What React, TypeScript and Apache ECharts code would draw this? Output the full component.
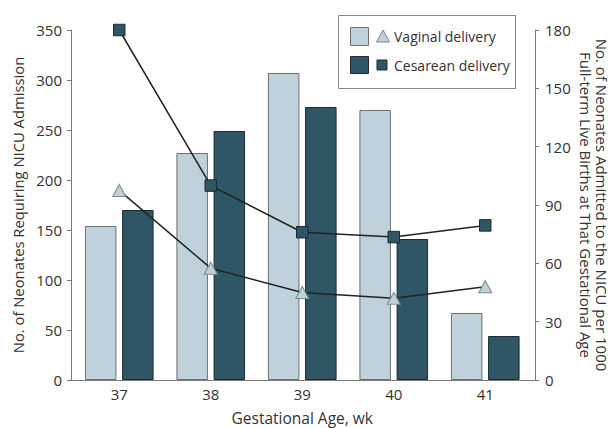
import React, { useEffect, useRef } from "react";
import * as echarts from "echarts";

const categories = ["37", "38", "39", "40", "41"];
const vaginalCounts = [154, 227, 307, 270, 67];
const cesareanCounts = [170, 249, 273, 141, 44];
const vaginalRate = [97.5, 57.5, 45, 42, 48];
const cesareanRate = [180, 100, 76, 73.5, 79.5];
const leftTicks = { min: 0, max: 350, interval: 50 };
const rightTicks = { min: 0, max: 180, interval: 30 };
const rightTitle = "No. of Neonates Admitted to the NICU per 1000\nFull-term Live Births at That Gestational Age";

const FONT = "Open Sans";
const LIGHT = "#bfd1da";
const DARK = "#2e5664";
const TXT = "#333333";
const AX = "#7a7a7a";

export default function App() {
  const ref = useRef<HTMLDivElement>(null);
  useEffect(() => {
    const chart = echarts.init(ref.current!, null, { renderer: "svg" });
    chart.setOption({
      animation: false,
      textStyle: { fontFamily: FONT },
      grid: { left: 73.5, top: 30, width: 457.5, bottom: 48, containLabel: false, outerBoundsMode: "none" },
      xAxis: {
        type: "category",
        data: categories,
        axisLine: { show: false },
        axisTick: { show: false },
        axisLabel: { color: TXT, fontSize: 15, fontFamily: FONT, margin: 6 },
        name: "Gestational Age, wk",
        nameLocation: "middle",
        nameGap: 30,
        nameTextStyle: { color: TXT, fontSize: 15.5, fontFamily: FONT, lineHeight: 16 },
      },
      yAxis: [
        {
          type: "value",
          ...leftTicks,
          position: "left",
          offset: 2.5,
          splitLine: { show: false },
          axisLine: { show: true, lineStyle: { color: AX, width: 1 } },
          axisTick: { show: true, length: 4, lineStyle: { color: AX } },
          axisLabel: { color: TXT, fontSize: 15, fontFamily: FONT, margin: 9 },
          name: "No. of Neonates Requiring NICU Admission",
          nameLocation: "middle",
          nameGap: 46,
          nameTextStyle: { color: TXT, fontSize: 14.8, fontFamily: FONT },
        },
        {
          type: "value",
          ...rightTicks,
          position: "right",
          offset: 4,
          splitLine: { show: false },
          axisLine: { show: true, lineStyle: { color: AX, width: 1 } },
          axisTick: { show: true, length: 4, lineStyle: { color: AX } },
          axisLabel: { color: TXT, fontSize: 15, fontFamily: FONT, margin: 10 },
        },
      ],
      series: [
        {
          type: "bar",
          name: "Vaginal delivery",
          data: vaginalCounts,
          yAxisIndex: 0,
          barWidth: 31.5,
          barGap: "18%",
          itemStyle: { color: LIGHT, borderColor: "#6f6f6f", borderWidth: 1 },
        },
        {
          type: "bar",
          name: "Cesarean delivery",
          data: cesareanCounts,
          yAxisIndex: 0,
          barWidth: 31.5,
          itemStyle: { color: DARK, borderColor: "#1e2a30", borderWidth: 1 },
        },
        {
          type: "line",
          name: "Vaginal rate",
          data: vaginalRate,
          yAxisIndex: 1,
          symbol: "triangle",
          symbolSize: [13, 12],
          lineStyle: { color: "#222222", width: 1.5 },
          itemStyle: { color: LIGHT, borderColor: "#7a8a92", borderWidth: 1 },
          z: 5,
        },
        {
          type: "line",
          name: "Cesarean rate",
          data: cesareanRate,
          yAxisIndex: 1,
          symbol: "rect",
          symbolSize: 11.5,
          lineStyle: { color: "#222222", width: 1.5 },
          itemStyle: { color: DARK, borderColor: "#1e2a30", borderWidth: 1 },
          z: 5,
        },
      ],
      graphic: [
        { type: "line", shape: { x1: 71, y1: 380.5, x2: 535, y2: 380.5 }, style: { stroke: AX, lineWidth: 1 }, z: 10 },
        {
          type: "text",
          x: 594,
          y: 205,
          rotation: -Math.PI / 2,
          style: { text: rightTitle, fill: TXT, font: `15px "${FONT}"`, lineHeight: 16, textAlign: "center", textVerticalAlign: "middle" },
          z: 10,
        },
        { type: "rect", shape: { x: 338.5, y: 15.5, width: 177, height: 73 }, style: { fill: "#ffffff", stroke: "#888888", lineWidth: 1 }, z: 20 },
        { type: "rect", shape: { x: 350.5, y: 27.5, width: 18, height: 18 }, style: { fill: LIGHT, stroke: "#6f6f6f", lineWidth: 1 }, z: 21 },
        { type: "polygon", shape: { points: [[383, 30], [389.5, 42], [376.5, 42]] }, style: { fill: LIGHT, stroke: "#7a8a92", lineWidth: 1 }, z: 21 },
        { type: "text", x: 394, y: 36.5, style: { text: "Vaginal delivery", fill: TXT, font: `14px "${FONT}"`, textVerticalAlign: "middle" }, z: 21 },
        { type: "rect", shape: { x: 350.5, y: 56.5, width: 18, height: 17 }, style: { fill: DARK, stroke: "#1e2a30", lineWidth: 1 }, z: 21 },
        { type: "rect", shape: { x: 377, y: 60, width: 10, height: 10 }, style: { fill: DARK, stroke: "#1e2a30", lineWidth: 1 }, z: 21 },
        { type: "text", x: 394, y: 65.5, style: { text: "Cesarean delivery", fill: TXT, font: `14px "${FONT}"`, textVerticalAlign: "middle" }, z: 21 },
      ],
    });
    return () => chart.dispose();
  }, []);
  return <div ref={ref} style={{ width: 613, height: 428, position: "absolute", left: 0, top: 0 }} />;
}
